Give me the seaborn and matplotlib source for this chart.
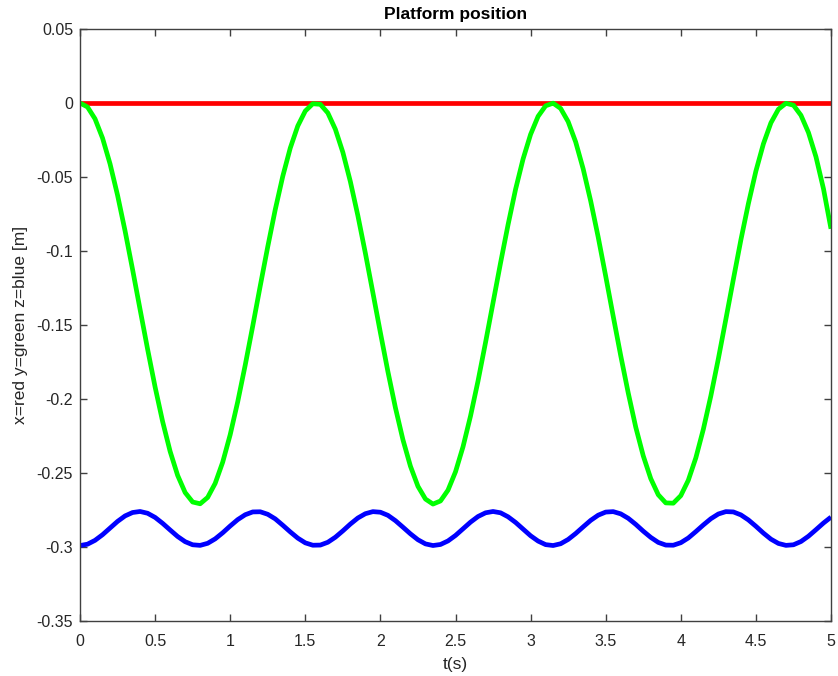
import numpy as np
import pandas as pd
import matplotlib
matplotlib.use("Agg")
import matplotlib.pyplot as plt
import seaborn as sns
from matplotlib.ticker import FuncFormatter

# time grid (s)
t = np.round(np.arange(0, 5.0001, 0.05), 2)

# x position (red) - constant zero
x_pos = [0.0] * len(t)

# y position (green)
y_pos = [
    0.0000, -0.0027, -0.0107, -0.0237, -0.0411, -0.0623, -0.0864, -0.1125, -0.1395, -0.1663,
    -0.1919, -0.2152, -0.2354, -0.2516, -0.2632, -0.2696, -0.2708, -0.2665, -0.2570, -0.2427,
    -0.2241, -0.2019, -0.1771, -0.1507, -0.1236, -0.0971, -0.0720, -0.0495, -0.0304, -0.0155,
    -0.0054, -0.0005, -0.0009, -0.0067, -0.0177, -0.0333, -0.0531, -0.0761, -0.1015, -0.1282,
    -0.1552, -0.1815, -0.2059, -0.2275, -0.2454, -0.2590, -0.2676, -0.2710, -0.2689, -0.2616,
    -0.2492, -0.2323, -0.2115, -0.1878, -0.1618, -0.1349, -0.1080, -0.0822, -0.0583, -0.0378,
    -0.0212, -0.0090, -0.0019, -0.0001, -0.0037, -0.0126, -0.0263, -0.0445, -0.0662, -0.0906,
    -0.1170, -0.1441, -0.1707, -0.1959, -0.2190, -0.2384, -0.2538, -0.2647, -0.2702, -0.2704,
    -0.2653, -0.2549, -0.2398, -0.2205, -0.1979, -0.1728, -0.1461, -0.1191, -0.0925, -0.0680,
    -0.0460, -0.0276, -0.0134, -0.0042, -0.0002, -0.0015, -0.0083, -0.0200, -0.0364, -0.0580,
    -0.0850,
]

# z position (blue)
z_pos = [
    -0.2990, -0.2981, -0.2955, -0.2917, -0.2872, -0.2827, -0.2790, -0.2767, -0.2760, -0.2772,
    -0.2800, -0.2840, -0.2885, -0.2929, -0.2964, -0.2985, -0.2989, -0.2975, -0.2945, -0.2904,
    -0.2858, -0.2815, -0.2782, -0.2763, -0.2762, -0.2779, -0.2810, -0.2853, -0.2898, -0.2940,
    -0.2972, -0.2988, -0.2987, -0.2968, -0.2934, -0.2891, -0.2845, -0.2804, -0.2775, -0.2761,
    -0.2765, -0.2786, -0.2822, -0.2866, -0.2911, -0.2951, -0.2979, -0.2990, -0.2983, -0.2959,
    -0.2922, -0.2877, -0.2832, -0.2794, -0.2769, -0.2760, -0.2769, -0.2796, -0.2834, -0.2879,
    -0.2924, -0.2960, -0.2984, -0.2990, -0.2978, -0.2949, -0.2909, -0.2864, -0.2820, -0.2785,
    -0.2764, -0.2761, -0.2776, -0.2806, -0.2847, -0.2893, -0.2935, -0.2969, -0.2987, -0.2988,
    -0.2971, -0.2939, -0.2896, -0.2851, -0.2809, -0.2777, -0.2761, -0.2763, -0.2783, -0.2817,
    -0.2860, -0.2906, -0.2947, -0.2976, -0.2989, -0.2985, -0.2963, -0.2927, -0.2883, -0.2838,
    -0.2798,
]

x_ticks = [0, 0.5, 1, 1.5, 2, 2.5, 3, 3.5, 4, 4.5, 5]
y_ticks = [-0.35, -0.3, -0.25, -0.2, -0.15, -0.1, -0.05, 0, 0.05]

sns.set_style("white")
plt.rcParams["font.family"] = ["Liberation Sans", "DejaVu Sans"]
plt.rcParams["axes.unicode_minus"] = False

fig = plt.figure(figsize=(8.38, 6.76), dpi=100)
ax = fig.add_axes([80 / 838, 1 - 621 / 676, (831 - 80) / 838, (621 - 29) / 676])

df = pd.DataFrame({"t": t, "x": x_pos, "y": y_pos, "z": z_pos})
kw = dict(lw=3.4, solid_joinstyle="round", solid_capstyle="butt")
sns.lineplot(data=df, x="t", y="x", color="#ff0000", ax=ax, **kw)
sns.lineplot(data=df, x="t", y="y", color="#00ff00", ax=ax, **kw)
sns.lineplot(data=df, x="t", y="z", color="#0000ff", ax=ax, **kw)

ax.set_xlim(0, 5)
ax.set_ylim(-0.35, 0.05)
ax.set_xticks(x_ticks)
ax.set_yticks(y_ticks)
fmt = FuncFormatter(lambda v, p: ("%g" % round(v, 4)))
ax.xaxis.set_major_formatter(fmt)
ax.yaxis.set_major_formatter(fmt)

axc = "#404040"
for s in ax.spines.values():
    s.set_visible(True)
    s.set_color(axc)
    s.set_linewidth(1.0)
ax.tick_params(direction="in", length=5, width=1.0, color=axc,
               labelcolor="#262626", labelsize=11.5,
               top=True, right=True, bottom=True, left=True)
ax.tick_params(axis="x", pad=9)
ax.tick_params(axis="y", pad=5)

ax.set_xlabel("t(s)", fontsize=12.5, color="#262626", labelpad=6)
ax.set_ylabel("x=red y=green z=blue [m]", fontsize=12.5, color="#262626", labelpad=6)
ax.set_title("Platform position", fontsize=12.5, fontweight="bold", color="black", pad=7)

fig.savefig("out.png", dpi=100, facecolor="white")
